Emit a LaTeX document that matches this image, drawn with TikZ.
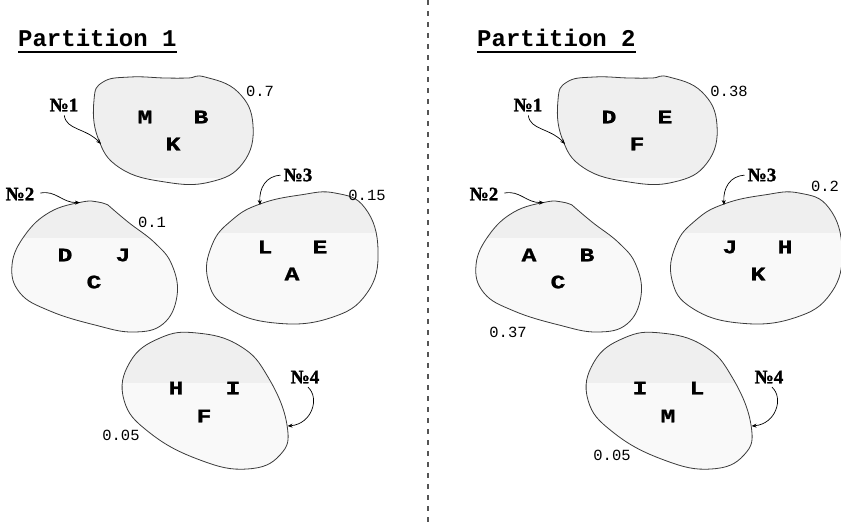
\documentclass[tikz,border=0pt]{standalone}
\usepackage{fontspec}
\setmainfont{Liberation Serif}
\newfontfamily\monofont{Liberation Mono}
\newfontfamily\widemono{Liberation Mono}[BoldFeatures={FakeBold=1.2, FakeStretch=1.3}]
\newfontfamily\tagfont{Liberation Serif}[BoldFeatures={FakeBold=1.5}]
\usetikzlibrary{arrows.meta}

\definecolor{blobtop}{HTML}{EFEFEF}
\definecolor{blobbot}{HTML}{F9F9F9}
\definecolor{outline}{HTML}{3A3A3A}
\definecolor{divgray}{HTML}{555555}

\tikzset{
  blobline/.style={draw=outline, line width=0.8pt},
  member/.style={font=\widemono\bfseries\fontsize{19}{19}\selectfont, inner sep=0pt},
  weight/.style={font=\monofont\fontsize{15.5}{16}\selectfont, inner sep=0pt},
  tag/.style={font=\tagfont\bfseries\fontsize{19}{19}\selectfont, inner sep=1pt},
  conn/.style={draw=black, line width=0.7pt, -{Stealth[length=5pt,width=4pt]}},
  titletext/.style={font=\monofont\bfseries\fontsize{24}{24}\selectfont, inner sep=0pt, anchor=base west},
  divider/.style={draw=divgray, line width=1.2pt, dash pattern=on 5pt off 6pt},
}

% outlines of the four clusters
\newcommand\blobA{plot[smooth cycle, tension=0.75] coordinates {(94,100) (103,82) (130,77) (165,78) (188,78) (205,77) (238,92) (253,125) (243,163) (210,182) (165,182) (120,168) (98,138)}}
\newcommand\blobB{plot[smooth, tension=0.7] coordinates {(108,205) (98,202) (82,202) (50,212) (25,235) (12,265) (20,293) (50,311) (95,325) (133,332) (163,324) (177,296) (172,265) (155,243) (128,222) (108,205)} -- cycle}
\newcommand\blobC{plot[smooth cycle, tension=0.75] coordinates {(260,204) (300,195) (335,193) (365,208) (378,250) (367,293) (330,318) (275,323) (228,308) (208,280) (212,245) (232,220)}}
\newcommand\blobD{plot[smooth cycle, tension=0.75] coordinates {(197,333) (240,346) (268,377) (287,425) (280,455) (247,469) (200,460) (150,433) (124,400) (130,362) (160,338)}}

% two-tone fill, then the outline
\newcommand\blobfill[2]{%
  \begin{scope}
    \clip #1;
    \fill[blobtop] (0,0) rectangle (841,#2);
    \fill[blobbot] (0,#2) rectangle (841,523);
  \end{scope}
  \draw[blobline] #1;
}

% clusters, their numbers and the arrows pointing at them
\newcommand\drawpartition[1]{%
  \blobfill{\blobA}{178}
  \blobfill{\blobB}{238}
  \blobfill{\blobC}{233}
  \blobfill{\blobD}{383}
  \coordinate (#1t1) at (101,144);
  \coordinate (#1t2) at (80,202.5);
  \coordinate (#1t3) at (260,205);
  \coordinate (#1t4) at (287.5,426);
  \node[tag] (#1n1) at (64,105) {№1};
  \node[tag] (#1n2) at (20,194) {№2};
  \node[tag] (#1n3) at (298,175) {№3};
  \node[tag] (#1n4) at (305,377) {№4};
  \draw[conn, shorten <=3pt] (#1n1.south) .. controls (66,130) and (86,128) .. (#1t1);
  \draw[conn, shorten <=5pt] (#1n2.east) .. controls (56,190) and (62,203) .. (#1t2);
  \draw[conn, shorten <=2pt] (#1n3.west) .. controls (266,176) and (259,188) .. (#1t3);
  \draw[conn, shorten <=4pt] (#1n4.south) .. controls (320,398) and (312,424) .. (#1t4);
}

\begin{document}
\begin{tikzpicture}[x=1pt, y=-1pt]
  \useasboundingbox (0,0) rectangle (841,523);

  % divider between the two partitions
  \coordinate (divtop) at (428,0);
  \coordinate (divbot) at (428,523);
  \draw[divider] (divtop) -- (divbot);

  % ---------- Partition 1 ----------
  \node[titletext] (title1) at (18,46) {Partition 1};
  \draw[line width=2pt] ([yshift=-6pt]title1.base west) -- ([yshift=-6pt]title1.base east);
  \drawpartition{a}
  \node[member] (aM) at (145,117) {M};
  \node[member] (aB) at (201,117) {B};
  \node[member] (aK) at (173,144) {K};
  \node[member] (aD) at (65,255) {D};
  \node[member] (aJ) at (123,255) {J};
  \node[member] (aC) at (94,282) {C};
  \node[member] (aL) at (265,247) {L};
  \node[member] (aE) at (320,247) {E};
  \node[member] (aA) at (292,274) {A};
  \node[member] (aH) at (176,388) {H};
  \node[member] (aI) at (233,388) {I};
  \node[member] (aF) at (204,416) {F};
  \node[weight] (aw1) at (260,91) {0.7};
  \node[weight] (aw2) at (152,222) {0.1};
  \node[weight] (aw3) at (367,195) {0.15};
  \node[weight] (aw4) at (121,435) {0.05};

  % ---------- Partition 2 ----------
  \node[titletext] (title2) at (477,46) {Partition 2};
  \draw[line width=2pt] ([yshift=-6pt]title2.base west) -- ([yshift=-6pt]title2.base east);
  \begin{scope}[xshift=464pt]
    \drawpartition{b}
  \end{scope}
  \node[member] (bD) at (609,117) {D};
  \node[member] (bE) at (665,117) {E};
  \node[member] (bF) at (637,144) {F};
  \node[member] (bA) at (529,255) {A};
  \node[member] (bB) at (587,255) {B};
  \node[member] (bC) at (558,282) {C};
  \node[member] (bJ) at (730,247) {J};
  \node[member] (bH) at (785,247) {H};
  \node[member] (bK) at (758,274) {K};
  \node[member] (bI) at (640,388) {I};
  \node[member] (bL) at (697,388) {L};
  \node[member] (bM) at (668,416) {M};
  \node[weight] (bw1) at (729,91) {0.38};
  \node[weight] (bw2) at (508,332) {0.37};
  \node[weight] (bw3) at (825,186) {0.2};
  \node[weight] (bw4) at (612,455) {0.05};
\end{tikzpicture}
\end{document}
